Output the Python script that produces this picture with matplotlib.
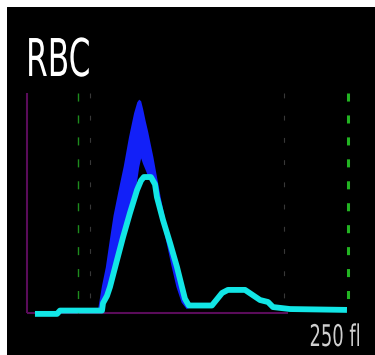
import numpy as np
import matplotlib
matplotlib.use("Agg")
import matplotlib.pyplot as plt
from matplotlib.patheffects import AbstractPathEffect
from matplotlib.transforms import Affine2D

plt.rcParams['lines.scale_dashes'] = False

# ---- data (x in fL, y in relative counts, 0-100 scale) ----
title = "RBC"
unit_label = "250 fl"

cyan_x = [6.2, 23.4, 25.7, 58.4, 59.2, 62.3, 64.6, 70.1, 74.8, 80.2, 85.7, 88.8,
          91.0, 96.5, 99.7, 101.2, 105.9, 111.4, 116.8, 120.7, 123.0, 126.0,
          144.0, 151.9, 156.5, 169.8, 181.5, 187.7, 191.6, 204.8, 249.2]
cyan_y = [-0.4, -0.4, 1.1, 1.1, 4.5, 7.8, 11.8, 24.1, 34.5, 45.5, 55.9, 60.2,
          61.8, 61.8, 58.5, 52.7, 42.3, 31.8, 20.9, 11.8, 6.5, 3.4,
          3.4, 9.1, 10.5, 10.5, 5.9, 5.0, 2.7, 1.8, 1.4]

band_x  = [55, 58, 61, 64, 67, 71, 75, 79, 83, 85.5, 87, 88.5, 90, 92, 94, 96, 98,
           101, 104, 108, 112, 116, 120, 124, 128]
band_hi = [2.0, 12.5, 21.0, 33.0, 44.5, 56.0, 67.0, 80.0, 91.0, 96.0, 97.2, 96.5,
           93.0, 87.5, 82.5, 76.8, 71.2, 61.5, 52.0, 40.5, 31.0, 22.0, 13.5, 6.5, 3.0]
band_lo = [1.4, 2.5, 6.5, 10.6, 17.3, 26.5, 35.3, 43.2, 51.0, 60.5, 66.5, 70.5,
           68.0, 65.2, 62.3, 61.8, 60.4, 53.2, 44.0, 33.0, 22.0, 12.0, 5.0, 2.0, 3.0]

axis_end_x = 203          # end of purple baseline (fL)
axis_top_y = 100          # top of purple vertical axis
left_marker = 39.7        # green dashed discriminator (fL)
right_marker = 250.0      # upper limit (fL)
dotted_markers = [49.1, 200.0]

# ---- colors ----
BG = "black"
PURPLE = "#5a0c5a"
BLUE = "#1220f8"
CYAN = "#12e6e6"
GREEN_L = "#1e8c1e"
GREEN_R = "#22b422"
GRAY = "#383838"


class HSqueeze(AbstractPathEffect):
    """Compress text horizontally about its left or right ink edge."""
    def __init__(self, sx, anchor="left"):
        super().__init__()
        self.sx = sx
        self.anchor = anchor

    def draw_path(self, renderer, gc, tpath, affine, rgbFace=None):
        ext = tpath.get_extents(affine)
        ox = ext.x0 if self.anchor == "left" else ext.x1
        t = affine + Affine2D().translate(-ox, 0).scale(self.sx, 1.0).translate(ox, 0)
        renderer.draw_path(gc, tpath, t, rgbFace)


W, H = 375, 355
fig = plt.figure(figsize=(W / 100, H / 100), dpi=100, facecolor="white")
ax = fig.add_axes([7 / W, 0, (W - 7) / W, (H - 7) / H])
ax.set_facecolor(BG)
ax.set_xlim(-15.58, 271.03)
ax.set_ylim(-19.09, 139.09)
ax.axis("off")
ax.add_patch(plt.Rectangle((0, 0), 1, 1, transform=ax.transAxes, color=BG, zorder=0))

# axes lines
ax.plot([0, 0], [0, axis_top_y], color=PURPLE, lw=1.5, zorder=1, solid_capstyle="butt")
ax.plot([0, axis_end_x], [0, 0], color=PURPLE, lw=1.5, zorder=1, solid_capstyle="butt")

# faint dotted markers
for xm in dotted_markers:
    ax.plot([xm, xm], [axis_top_y, 0], color=GRAY, lw=0.8, dashes=(3.5, 12.5), zorder=1)

# blue envelope band
ax.fill_between(band_x, band_lo, band_hi, color=BLUE, lw=0, zorder=2)

# cyan histogram
ax.plot(cyan_x, cyan_y, color=CYAN, lw=4.2, zorder=3,
        solid_joinstyle="round", solid_capstyle="butt")

# green dashed markers
ax.plot([left_marker, left_marker], [axis_top_y, 0], color=GREEN_L, lw=1.0,
        dashes=(5.8, 10.0), zorder=4)
ax.plot([right_marker, right_marker], [axis_top_y, 3.6], color=GREEN_R, lw=2.2,
        dashes=(5.8, 10.0), zorder=4)

# texts
fig.text(24 / W, 1 - 76 / H, title, color="white", fontsize=37.5,
         family="DejaVu Sans", ha="left", va="baseline",
         path_effects=[HSqueeze(0.6, "left")])
fig.text(362 / W, 1 - 346 / H, unit_label, color="#cfcfcf", fontsize=21.5,
         family="DejaVu Sans", ha="right", va="baseline",
         path_effects=[HSqueeze(0.6, "right")])

fig.savefig("out.png", dpi=100, facecolor=fig.get_facecolor())
